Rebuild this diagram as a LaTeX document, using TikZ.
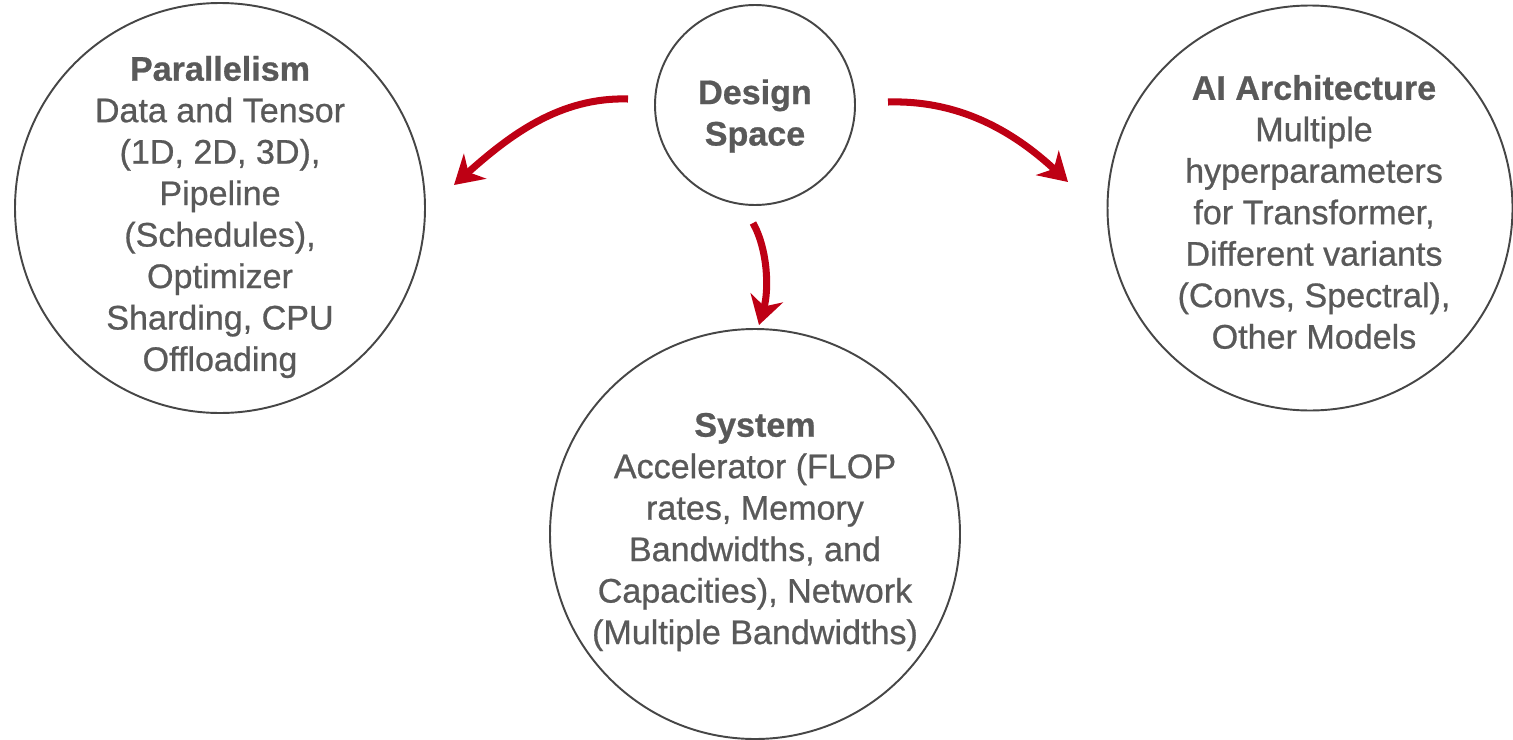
\documentclass[tikz,border=0pt]{standalone}
\usepackage{fontspec}
\setmainfont{Liberation Sans}
\newfontfamily\medfont{Liberation Sans}[FakeBold=0.7]
\usepackage{xcolor}
\usetikzlibrary{arrows.meta,positioning}
\definecolor{txtgray}{RGB}{89,89,89}
\definecolor{ringgray}{RGB}{70,70,70}
\definecolor{arrowred}{RGB}{190,0,20}

\begin{document}
\begin{tikzpicture}[
    bubble/.style={draw=ringgray, line width=1.1pt, circle, inner sep=0pt},
    bubbletext/.style={text=txtgray, align=center, font=\medfont\fontsize{19.4}{23.6}\selectfont},
    flow/.style={draw=arrowred, line width=4pt, -{Stealth[length=16pt,width=19pt,inset=5pt]}}
  ]
        \useasboundingbox (0,0) rectangle (30.26,-14.78);

        % circles
        \node[bubble, minimum size=4cm] (ds) at (15.1,-2.1) {};
        \node[bubble, minimum size=8.2cm] (par) at (4.4,-4.16) {};
        \node[bubble, minimum size=8.1cm] (arch) at (26.2,-4.16) {};
        \node[bubble, minimum size=8.2cm] (sys) at (15.1,-10.68) {};

        % texts
        \node[bubbletext] (dsTxt) at (15.1,-2.32) {\textbf{Design}\\\textbf{Space}};
        \node[bubbletext] (parTxt) at (4.4,-4.34) {\textbf{Parallelism}\\Data and Tensor\\(1D, 2D, 3D),\\Pipeline\\(Schedules),\\Optimizer\\Sharding, CPU\\Offloading};
        \node[bubbletext] (archTxt) at (26.28,-4.24) {\textbf{AI Architecture}\\Multiple\\hyperparameters\\for Transformer,\\Different variants\\(Convs, Spectral),\\Other Models};
        \node[bubbletext] (sysTxt) at (15.1,-10.64) {\textbf{System}\\Accelerator (FLOP\\rates, Memory\\Bandwidths, and\\Capacities), Network\\(Multiple Bandwidths)};

        % arrow ends
        \coordinate (dsL) at (12.56,-1.98);
        \coordinate (parIn) at (9.08,-3.7);
        \coordinate (dsR) at (17.76,-2.04);
        \coordinate (archIn) at (21.36,-3.64);
        \coordinate (dsB) at (15.06,-4.46);
        \coordinate (sysIn) at (15.18,-6.5);

        \draw[flow] (dsL) .. controls (11.2,-1.94) and (10.2,-2.7) .. (parIn);
        \draw[flow] (dsR) .. controls (19.16,-2.0) and (20.24,-2.6) .. (archIn);
        \draw[flow] (dsB) .. controls (15.36,-5.0) and (15.38,-5.8) .. (sysIn);
\end{tikzpicture}
\end{document}
